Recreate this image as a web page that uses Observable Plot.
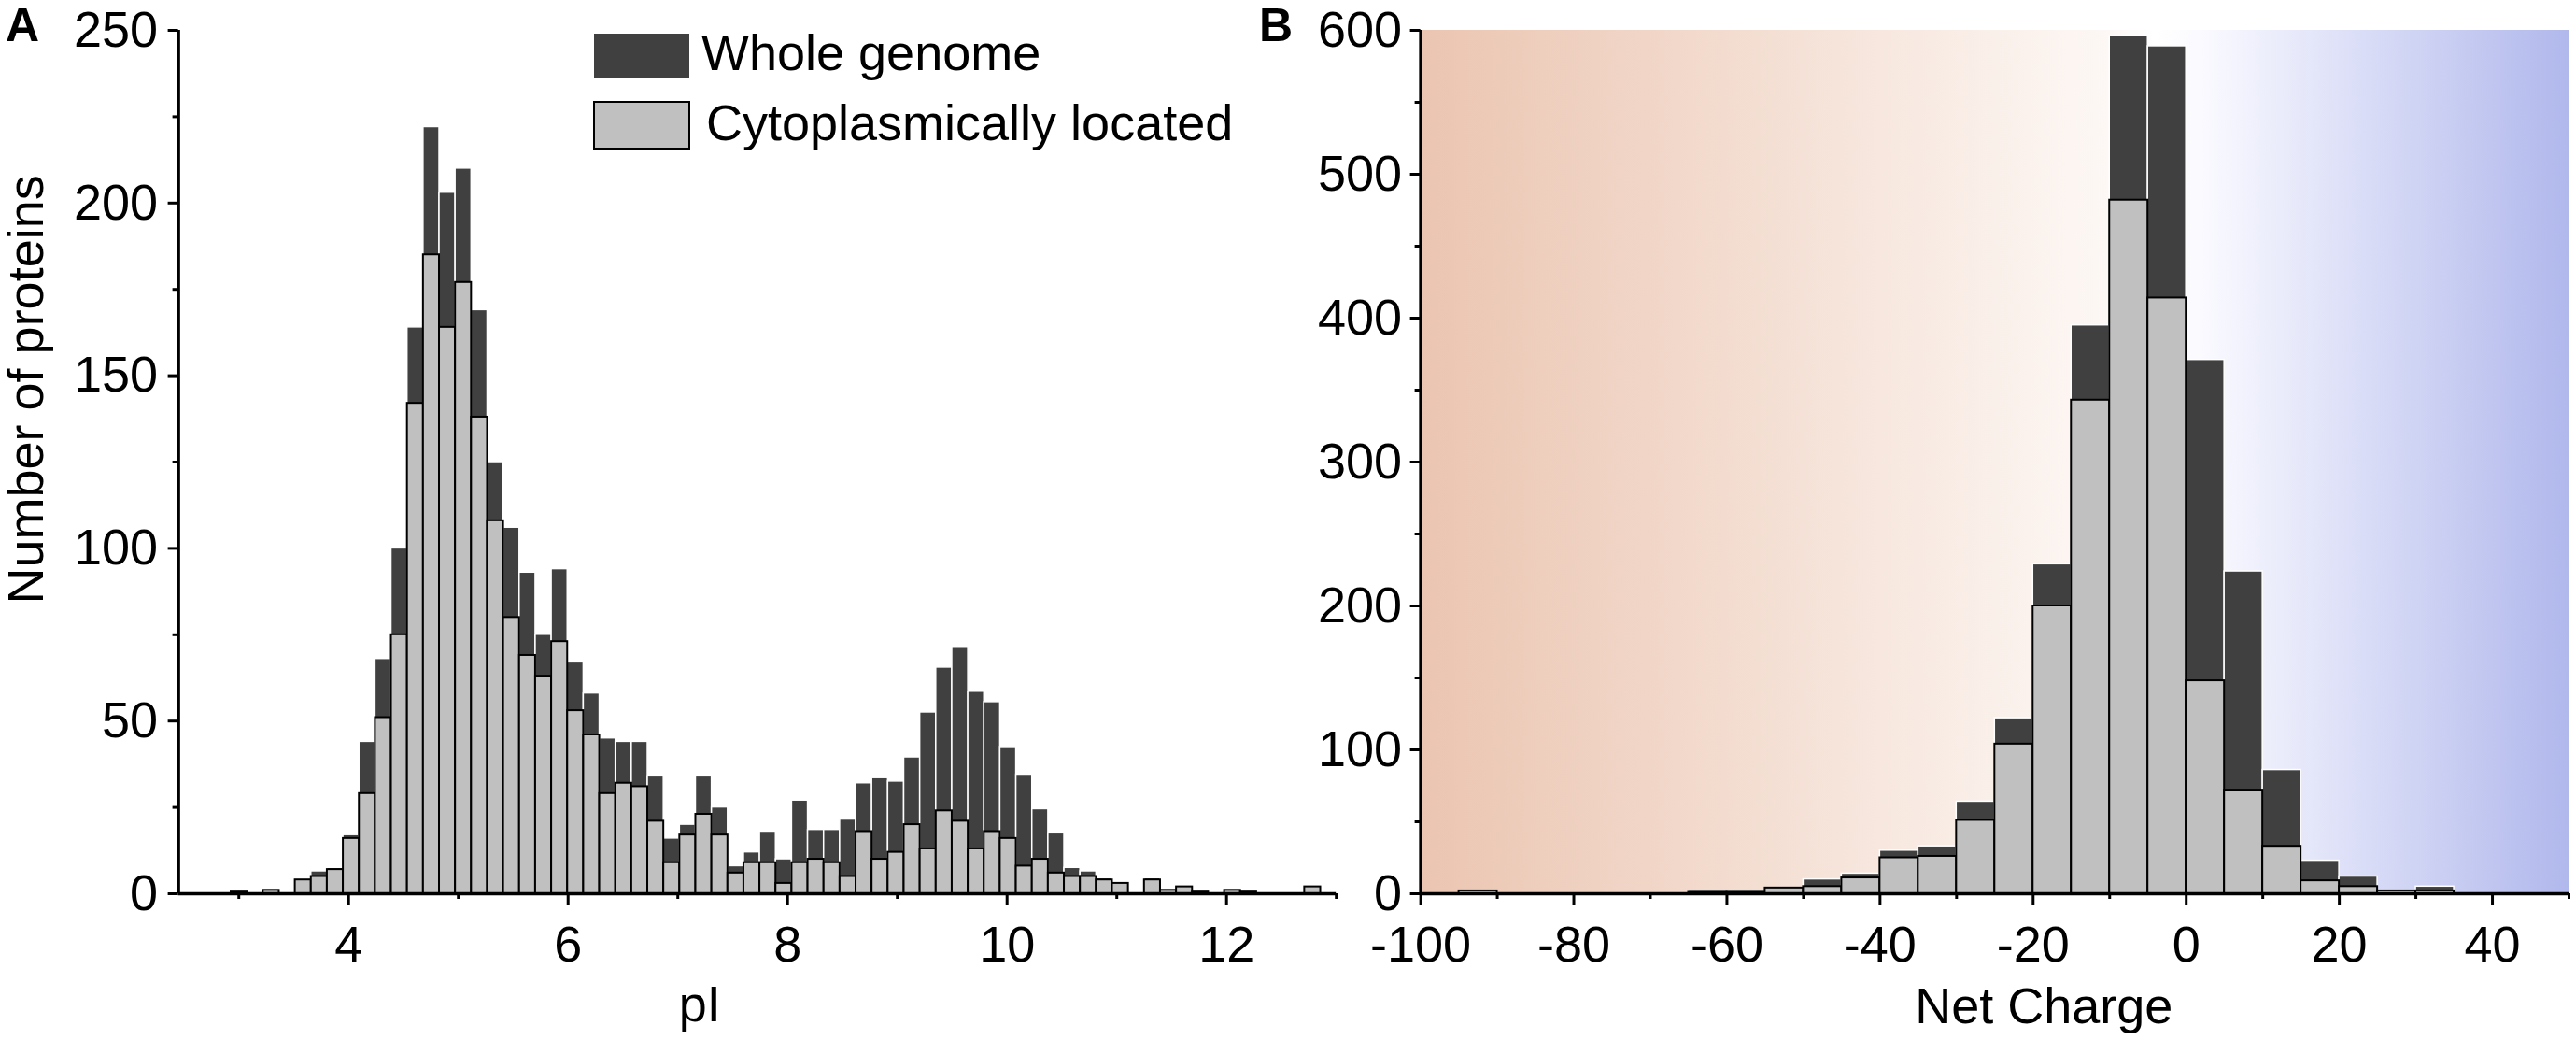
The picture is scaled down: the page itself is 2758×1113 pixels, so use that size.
<!DOCTYPE html>
<html>
<head>
<meta charset="utf-8">
<script src="https://cdn.jsdelivr.net/npm/d3@7"></script>
<script src="https://cdn.jsdelivr.net/npm/@observablehq/plot@0.6"></script>
<style>
  body { margin: 0; background: #fff; }
  #wrap { position: relative; width: 2758px; height: 1113px; font-family: "Liberation Sans", Arial, sans-serif; color: #000; }
  .panel { position: absolute; top: 0; }
  .tag { position: absolute; font-weight: bold; font-size: 50px; line-height: 50px; }
  .sw { position: absolute; box-sizing: border-box; }
  .lt { position: absolute; font-size: 54px; line-height: 54px; white-space: nowrap; }
</style>
</head>
<body>
<div id="wrap">
  <div id="panelA" class="panel" style="left:0px"></div>
  <div id="panelB" class="panel" style="left:1440px"></div>
  <div class="tag" style="left:6px;top:2px">A</div>
  <div class="tag" style="left:1348px;top:2px">B</div>
  <div class="sw" style="left:636px;top:36px;width:102px;height:48px;background:#404040"></div>
  <div class="lt" style="left:751px;top:29px">Whole genome</div>
  <div class="sw" style="left:635px;top:108px;width:104px;height:52px;background:#c0c0c0;border:2.5px solid #000"></div>
  <div class="lt" style="left:756px;top:104px">Cytoplasmically located</div>
</div>
<script>
// ---------- Panel A: pI histogram ----------
const pIBinStart = 2.93;
const pIBinWidth = 0.146;
const pIWhole = [0.5,0,1,0,4,6.5,7.5,17,44,68,100,164,222,203,210,169,125,106,93,75,94,67,58,45,44,44,34,16,20,34,25,8,12,18,10,27,18.5,18.5,21.5,32,33.5,32.5,39.5,52.5,65.5,71.5,58.5,55.5,42.5,34.5,24.5,17.5,7.5,6.5,4.5,3,0,4.5,1,2,0.5,0,1,0.5,0,0,0,2];
const pICyto  = [0.5,0,1,0,4,5,7,16,29,51,75,142,185,164,177,138,108,80,69,63,73,53,46,29,32,31,21,9,17,23,17,6,9,9,3,9,10,9,5,18,10,12,20,13,24,21,13,18,16,8,10,6,5,5,4,3,0,4,1,2,0.5,0,1,0.5,0,0,0,2];
const pIXTicks = [4, 6, 8, 10, 12];
const pIXMinor = [3, 5, 7, 9, 11, 13];
const pIYTicks = [0, 50, 100, 150, 200, 250];
const pIYMinor = [25, 75, 125, 175, 225];

// ---------- Panel B: net charge histogram ----------
const netBinStart = -100;
const netBinWidth = 5;
const netWhole = [0,2,0,0,0,0,0,2,2,4,10,14,30,33,64,122,229,395,596,589,371,224,86,23,12,2,5,0,0,0];
const netCyto  = [0,2,0,0,0,0,0,1,1,4,5,11,25,26,51,104,200,343,482,414,148,72,33,9,5,2,2,0,0,0];
const netXTicks = [-100, -80, -60, -40, -20, 0, 20, 40];
const netXMinor = [-90, -70, -50, -30, -10, 10, 30, 50];
const netYTicks = [0, 100, 200, 300, 400, 500, 600];
const netYMinor = [50, 150, 250, 350, 450, 550];

const rowsA = pIWhole.map((w, i) => ({
  x1: pIBinStart + i * pIBinWidth,
  x2: pIBinStart + (i + 1) * pIBinWidth,
  whole: w,
  cyto: pICyto[i]
}));
const rowsB = netWhole.map((w, i) => ({
  x1: netBinStart + i * netBinWidth,
  x2: netBinStart + (i + 1) * netBinWidth,
  whole: w,
  cyto: netCyto[i]
}));

const FONT = "'Liberation Sans', Arial, Helvetica, sans-serif";
const FS = 54;
const fmt = d => String(d);
const style = {fontFamily: FONT, fontSize: FS + "px", color: "#000", background: "transparent", overflow: "visible"};

const plotA = Plot.plot({
  width: 1440,
  height: 1113,
  marginTop: 32,
  marginBottom: 157,
  marginLeft: 190.6,
  marginRight: 9.8,
  style,
  x: {domain: [2.45, 13], label: null},
  y: {domain: [0, 250], label: null},
  marks: [
    Plot.rectY(rowsA, {x1: "x1", x2: "x2", y1: 0, y2: "whole", fill: "#404040", stroke: "#fff", strokeWidth: 1.5}),
    Plot.rectY(rowsA, {x1: "x1", x2: "x2", y1: 0, y2: "cyto", fill: "#c0c0c0", stroke: "#000", strokeWidth: 2}),
    Plot.axisX({ticks: pIXTicks, tickSize: 12, tickPadding: 22, fontSize: FS, strokeWidth: 3, tickFormat: fmt, label: null}),
    Plot.axisX({ticks: pIXMinor, tickSize: 6, strokeWidth: 3, tickFormat: () => "", label: null}),
    Plot.axisY({ticks: pIYTicks, tickSize: 11, tickPadding: 11, fontSize: FS, strokeWidth: 3, tickFormat: fmt, label: null}),
    Plot.axisY({ticks: pIYMinor, tickSize: 6, strokeWidth: 3, tickFormat: () => "", label: null}),
    Plot.ruleY([0], {stroke: "#000", strokeWidth: 3.5}),
    Plot.ruleX([2.45], {stroke: "#000", strokeWidth: 3.5}),
    Plot.text(["pI"], {x: 7.2, frameAnchor: "bottom", dy: 136, lineAnchor: "bottom", textAnchor: "middle", fontSize: FS, fill: "#000"}),
    Plot.text(["Number of proteins"], {y: 146, frameAnchor: "left", dx: -145, rotate: -90, lineAnchor: "bottom", textAnchor: "middle", fontSize: FS, fill: "#000"})
  ]
});
document.getElementById("panelA").appendChild(plotA);

const plotB = Plot.plot({
  width: 1318,
  height: 1113,
  marginTop: 32,
  marginBottom: 157,
  marginLeft: 80.6,
  marginRight: 8,
  style,
  x: {domain: [-100, 50], label: null},
  y: {domain: [0, 600], label: null},
  marks: [
    Plot.rect([{x1: -100, x2: 50, y1: 0, y2: 600}], {x1: "x1", x2: "x2", y1: "y1", y2: "y2", fill: "url(#chargeGrad)"}),
    Plot.rectY(rowsB, {x1: "x1", x2: "x2", y1: 0, y2: "whole", fill: "#404040", stroke: "#fff", strokeWidth: 1.5}),
    Plot.rectY(rowsB, {x1: "x1", x2: "x2", y1: 0, y2: "cyto", fill: "#c0c0c0", stroke: "#000", strokeWidth: 2}),
    Plot.axisX({ticks: netXTicks, tickSize: 12, tickPadding: 22, fontSize: FS, strokeWidth: 3, tickFormat: fmt, label: null}),
    Plot.axisX({ticks: netXMinor, tickSize: 6, strokeWidth: 3, tickFormat: () => "", label: null}),
    Plot.axisY({ticks: netYTicks, tickSize: 11, tickPadding: 9, fontSize: FS, strokeWidth: 3, tickFormat: fmt, label: null}),
    Plot.axisY({ticks: netYMinor, tickSize: 6, strokeWidth: 3, tickFormat: () => "", label: null}),
    Plot.ruleY([0], {stroke: "#000", strokeWidth: 3.5}),
    Plot.ruleX([-100], {stroke: "#000", strokeWidth: 3.5}),
    Plot.text(["Net Charge"], {x: -18.6, frameAnchor: "bottom", dy: 138, lineAnchor: "bottom", textAnchor: "middle", fontSize: FS, fill: "#000"})
  ]
});
// gradient definition for the background of panel B
const defs = d3.select(plotB).insert("defs", ":first-child");
const grad = defs.append("linearGradient").attr("id", "chargeGrad").attr("x1", "0").attr("x2", "1").attr("y1", "0").attr("y2", "0");
[[0, "#ebc5b1"], [0.6, "#fdf8f5"], [0.64, "#ffffff"], [0.68, "#fafaff"], [1, "#b1b8ec"]].forEach(([o, c]) => {
  grad.append("stop").attr("offset", o).attr("stop-color", c);
});
document.getElementById("panelB").appendChild(plotB);
</script>
</body>
</html>
